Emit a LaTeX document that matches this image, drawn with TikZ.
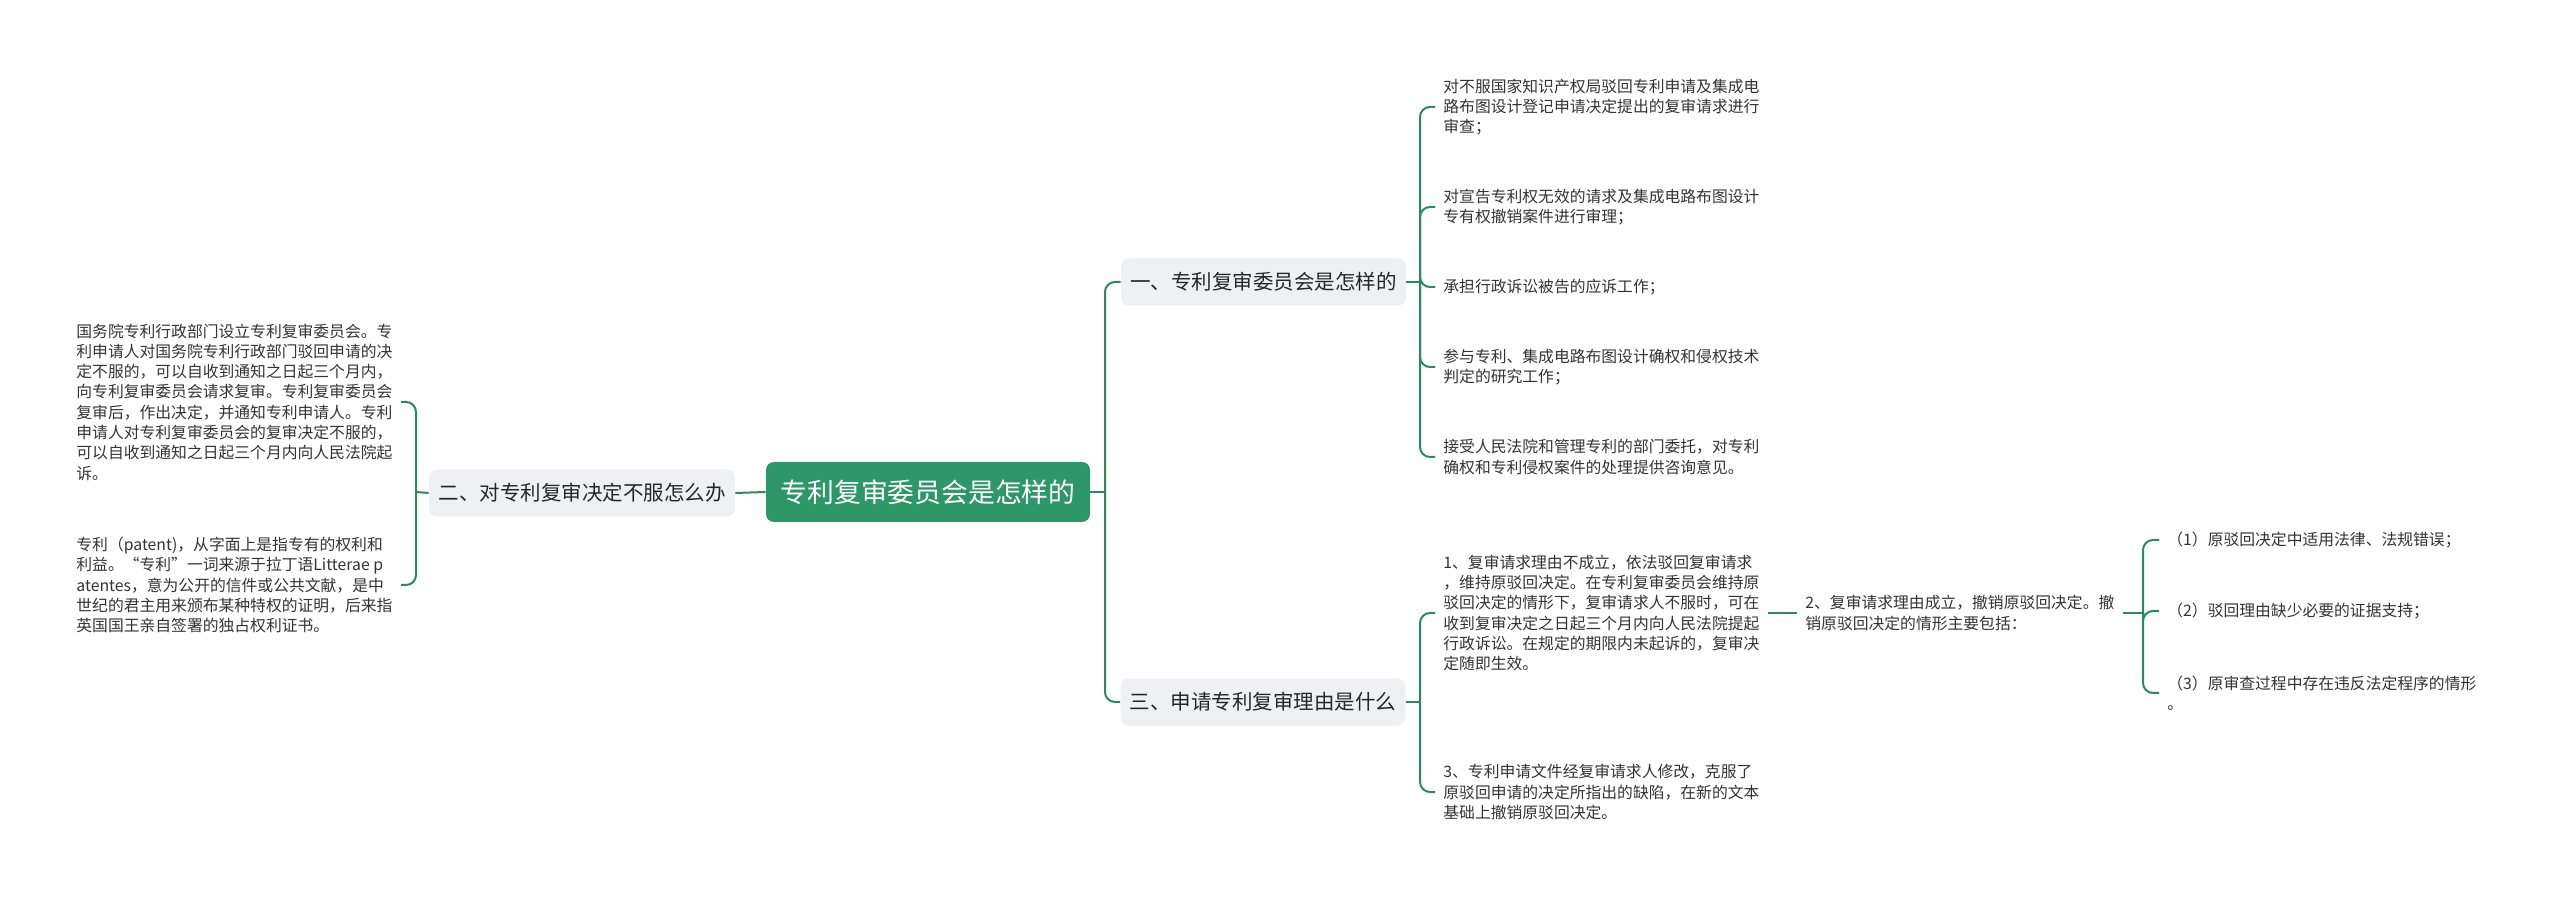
\documentclass[tikz,border=0pt]{standalone}
\usepackage{fontspec}
\setmainfont{Noto Sans CJK SC}
\usepackage{xcolor}
\definecolor{mmgreen}{HTML}{2A8A5B}
\definecolor{rootgreen}{HTML}{2E9767}
\definecolor{topicgray}{HTML}{EEF0F3}
\definecolor{leaftext}{HTML}{333333}

\begin{document}
\begin{tikzpicture}[x=0.5pt,y=-0.5pt,
  link/.style={draw=mmgreen,line width=1pt},
  branchline/.style={link,rounded corners=5pt},
  topic/.style={fill=topicgray,rounded corners=4pt,minimum height=23.5pt,inner sep=0pt,text=black!85,font=\fontsize{10.25}{12}\selectfont},
  leaf/.style={inner xsep=4pt,inner ysep=0pt,align=left,text=leaftext,font=\fontsize{7.9}{10.15}\selectfont}]
\useasboundingbox (0,0) rectangle (2560,897);
% centre and the three topics
\node[fill=rootgreen,rounded corners=4pt,inner sep=0pt,minimum width=162pt,minimum height=30pt,text=white,font=\fontsize{13.4}{16}\selectfont] (root) at (928,492) {专利复审委员会是怎样的};
\node[topic,minimum width=153pt] (b2) at (582,493) {二、对专利复审决定不服怎么办};
\node[topic,minimum width=142.5pt] (b1) at (1263.5,282) {一、专利复审委员会是怎样的};
\node[topic,minimum width=142.5pt] (b3) at (1263,702) {三、申请专利复审理由是什么};
% left side
\node[leaf,anchor=west] (l1) at (68,402) {国务院专利行政部门设立专利复审委员会。专\\利申请人对国务院专利行政部门驳回申请的决\\定不服的，可以自收到通知之日起三个月内，\\向专利复审委员会请求复审。专利复审委员会\\复审后，作出决定，并通知专利申请人。专利\\申请人对专利复审委员会的复审决定不服的，\\可以自收到通知之日起三个月内向人民法院起\\诉。};
\node[leaf,anchor=west] (l2) at (68,585) {专利（patent)，从字面上是指专有的权利和\\利益。“专利”一词来源于拉丁语Litterae p\\atentes，意为公开的信件或公共文献，是中\\世纪的君主用来颁布某种特权的证明，后来指\\英国国王亲自签署的独占权利证书。};
% topic one
\node[leaf,anchor=west] (r1) at (1435,107) {对不服国家知识产权局驳回专利申请及集成电\\路布图设计登记申请决定提出的复审请求进行\\审查；};
\node[leaf,anchor=west] (r2) at (1435,207) {对宣告专利权无效的请求及集成电路布图设计\\专有权撤销案件进行审理；};
\node[leaf,anchor=west] (r3) at (1435,287) {承担行政诉讼被告的应诉工作；};
\node[leaf,anchor=west] (r4) at (1435,367) {参与专利、集成电路布图设计确权和侵权技术\\判定的研究工作；};
\node[leaf,anchor=west] (r5) at (1435,457) {接受人民法院和管理专利的部门委托，对专利\\确权和专利侵权案件的处理提供咨询意见。};
% topic three
\node[leaf,anchor=west] (t1) at (1435,613) {1、复审请求理由不成立，依法驳回复审请求\\，维持原驳回决定。在专利复审委员会维持原\\驳回决定的情形下，复审请求人不服时，可在\\收到复审决定之日起三个月内向人民法院提起\\行政诉讼。在规定的期限内未起诉的，复审决\\定随即生效。};
\node[leaf,anchor=west] (t3) at (1435,792) {3、专利申请文件经复审请求人修改，克服了\\原驳回申请的决定所指出的缺陷，在新的文本\\基础上撤销原驳回决定。};
\node[leaf,anchor=west] (t2) at (1797,613) {2、复审请求理由成立，撤销原驳回决定。撤\\销原驳回决定的情形主要包括：};
\node[leaf,anchor=west] (s1) at (2159,540) {（1）原驳回决定中适用法律、法规错误；};
\node[leaf,anchor=west] (s2) at (2159,611) {（2）驳回理由缺少必要的证据支持；};
\node[leaf,anchor=west] (s3) at (2159,693) {（3）原审查过程中存在违反法定程序的情形\\。};
% connectors
\coordinate (jl) at (416,492);
\coordinate (jr) at (1105,492);
\coordinate (j1) at (1420,282);
\coordinate (j3) at (1420,702);
\coordinate (j2) at (2143,613);
\draw[link] (root.west) -- (b2.east);
\draw[link] (b2.west) -- (jl);
\foreach \n in {l1,l2} \draw[branchline] (jl) |- (\n.east);
\draw[link] (root.east) -- (jr);
\foreach \n in {b1,b3} \draw[branchline] (jr) |- (\n.west);
\draw[link] (b1.east) -- (j1);
\foreach \n in {r1,r2,r3,r4,r5} \draw[branchline] (j1) |- (\n.west);
\draw[link] (b3.east) -- (j3);
\foreach \n in {t1,t3} \draw[branchline] (j3) |- (\n.west);
\draw[link] (t1.east) -- (t2.west);
\draw[link] (t2.east) -- (j2);
\foreach \n in {s1,s2,s3} \draw[branchline] (j2) |- (\n.west);
\end{tikzpicture}
\end{document}
